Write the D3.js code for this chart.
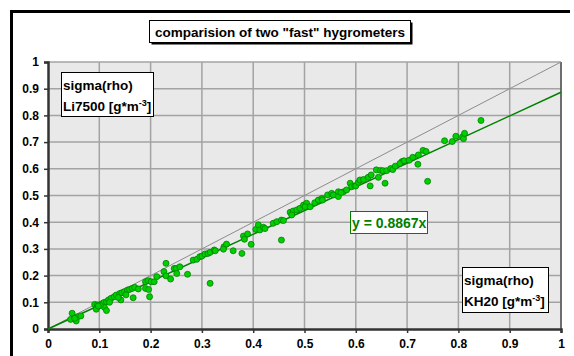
<!DOCTYPE html>
<html>
<head>
<meta charset="utf-8">
<script src="https://cdnjs.cloudflare.com/ajax/libs/d3/7.8.5/d3.min.js"></script>
<style>
body { margin: 0; background: #fff; }
svg text { font-family: "Liberation Sans", Arial, sans-serif; font-weight: bold; }
</style>
</head>
<body>
<div id="chart"></div>
<script>
// measured points, KH20 sigma(rho) on x, Li7500 sigma(rho) on y
var kh20 = [0.047, 0.044, 0.055, 0.058, 0.064, 0.052, 0.091, 0.096, 0.094, 0.104, 0.109, 0.114, 0.110, 0.114,
  0.118, 0.123, 0.129, 0.133, 0.140, 0.144, 0.149, 0.155, 0.159, 0.164, 0.169, 0.120, 0.142, 0.166, 0.190, 0.195,
  0.201, 0.207, 0.190, 0.198, 0.196, 0.212, 0.230, 0.226, 0.230, 0.239, 0.246, 0.250, 0.251, 0.257, 0.272, 0.283,
  0.290, 0.296, 0.300, 0.306, 0.312, 0.316, 0.324, 0.326, 0.316, 0.343, 0.348, 0.342, 0.361, 0.378, 0.381, 0.383,
  0.389, 0.396, 0.405, 0.410, 0.413, 0.420, 0.423, 0.439, 0.446, 0.455, 0.459, 0.455, 0.472, 0.478, 0.475, 0.485,
  0.491, 0.498, 0.504, 0.501, 0.511, 0.520, 0.527, 0.534, 0.535, 0.545, 0.553, 0.556, 0.566, 0.566, 0.576, 0.571,
  0.582, 0.589, 0.592, 0.598, 0.600, 0.605, 0.608, 0.615, 0.624, 0.630, 0.628, 0.644, 0.640, 0.648, 0.653, 0.660,
  0.657, 0.668, 0.672, 0.677, 0.690, 0.686, 0.694, 0.704, 0.711, 0.722, 0.721, 0.731, 0.737, 0.740, 0.773, 0.788,
  0.795, 0.808, 0.810, 0.812, 0.844, 0.137, 0.152, 0.176, 0.102, 0.098];
var li7500 = [0.059, 0.036, 0.030, 0.046, 0.049, 0.040, 0.092, 0.090, 0.074, 0.094, 0.099, 0.102, 0.081, 0.069,
  0.109, 0.115, 0.121, 0.127, 0.133, 0.136, 0.140, 0.146, 0.148, 0.152, 0.156, 0.100, 0.109, 0.117, 0.177, 0.181,
  0.177, 0.177, 0.152, 0.121, 0.148, 0.196, 0.246, 0.215, 0.199, 0.187, 0.227, 0.227, 0.208, 0.233, 0.205, 0.258,
  0.261, 0.271, 0.273, 0.281, 0.283, 0.287, 0.296, 0.293, 0.171, 0.308, 0.318, 0.299, 0.293, 0.283, 0.348, 0.336,
  0.356, 0.317, 0.373, 0.390, 0.371, 0.381, 0.376, 0.396, 0.402, 0.408, 0.406, 0.333, 0.437, 0.442, 0.427, 0.446,
  0.452, 0.464, 0.471, 0.458, 0.458, 0.473, 0.483, 0.489, 0.483, 0.502, 0.508, 0.502, 0.514, 0.496, 0.514, 0.511,
  0.521, 0.546, 0.533, 0.536, 0.536, 0.549, 0.558, 0.560, 0.568, 0.577, 0.536, 0.568, 0.596, 0.594, 0.593, 0.593,
  0.546, 0.601, 0.597, 0.610, 0.627, 0.620, 0.630, 0.632, 0.643, 0.652, 0.617, 0.669, 0.665, 0.553, 0.705, 0.702,
  0.722, 0.720, 0.713, 0.733, 0.781, 0.118, 0.128, 0.150, 0.088, 0.086];
var ticks = [0, 0.1, 0.2, 0.3, 0.4, 0.5, 0.6, 0.7, 0.8, 0.9, 1];
var slope = 0.8867;
var titleText = 'comparision of two "fast" hygrometers';

var W = 574, H = 356;
var plotL = 48, plotR = 561, plotT = 62, plotB = 329;

var svg = d3.select("#chart").append("svg")
  .attr("width", W)
  .attr("height", H);

// outer frame (only top and left are inside the picture)
svg.append("line").attr("x1", 11.5).attr("x2", 570).attr("y1", 11.5).attr("y2", 11.5)
  .attr("stroke", "#000").attr("stroke-width", 3);
svg.append("line").attr("x1", 11.5).attr("x2", 11.5).attr("y1", 10).attr("y2", H)
  .attr("stroke", "#000").attr("stroke-width", 3);

var x = d3.scaleLinear().domain([0, 1]).range([plotL, plotR]);
var y = d3.scaleLinear().domain([0, 1]).range([plotB, plotT]);

svg.append("rect")
  .attr("x", plotL).attr("y", plotT)
  .attr("width", plotR - plotL).attr("height", plotB - plotT)
  .attr("fill", "#e9e9e9");

// grid
svg.append("g").selectAll("line").data(ticks.slice(1)).enter().append("line")
  .attr("x1", function(d) { return x(d); })
  .attr("x2", function(d) { return x(d); })
  .attr("y1", plotT).attr("y2", plotB)
  .attr("stroke", "#a3a3a3").attr("stroke-width", 1.5);
svg.append("g").selectAll("line").data(ticks.slice(1)).enter().append("line")
  .attr("x1", plotL).attr("x2", plotR)
  .attr("y1", function(d) { return y(d); })
  .attr("y2", function(d) { return y(d); })
  .attr("stroke", "#a3a3a3").attr("stroke-width", 1.5);

// right border of plot
svg.append("line").attr("x1", plotR).attr("x2", plotR).attr("y1", plotT).attr("y2", plotB)
  .attr("stroke", "#555").attr("stroke-width", 1.5);

// axes
var xAxis = d3.axisBottom(x).tickValues(ticks).tickSize(4).tickPadding(6)
  .tickFormat(function(d) { return d3.format("")(d); });
var yAxis = d3.axisLeft(y).tickValues(ticks).tickSize(4).tickPadding(5)
  .tickFormat(function(d) { return d3.format("")(d); });

var gx = svg.append("g").attr("transform", "translate(0," + plotB + ")").call(xAxis);
var gy = svg.append("g").attr("transform", "translate(" + plotL + ",0)").call(yAxis);
[gx, gy].forEach(function(g) {
  g.select(".domain").attr("stroke", "#333").attr("stroke-width", 2.5);
  g.selectAll(".tick line").attr("stroke", "#333").attr("stroke-width", 1.5);
  g.selectAll("text").attr("font-size", 12).attr("fill", "#000")
    .attr("font-family", "Liberation Sans, Arial, sans-serif").attr("font-weight", "bold");
});

// 1:1 line and fit line
svg.append("line")
  .attr("x1", x(0)).attr("y1", y(0)).attr("x2", x(1)).attr("y2", y(1))
  .attr("stroke", "#8c8c8c").attr("stroke-width", 1);
svg.append("line")
  .attr("x1", x(0)).attr("y1", y(0)).attr("x2", x(1)).attr("y2", y(slope))
  .attr("stroke", "#008000").attr("stroke-width", 1.5);

// points
svg.append("g").selectAll("circle").data(kh20).enter().append("circle")
  .attr("cx", function(d) { return x(d); })
  .attr("cy", function(d, i) { return y(li7500[i]); })
  .attr("r", 3)
  .attr("fill", "#00d000")
  .attr("stroke", "#008000")
  .attr("stroke-width", 0.8);

// text boxes
function box(x0, y0, w, h, stroke, shadow) {
  if (shadow) {
    svg.append("rect").attr("x", x0 + 2).attr("y", y0 + 2).attr("width", w).attr("height", h).attr("fill", "#000");
  }
  svg.append("rect").attr("x", x0).attr("y", y0).attr("width", w).attr("height", h)
    .attr("fill", "#fff").attr("stroke", stroke).attr("stroke-width", 1);
}

box(149.5, 20.5, 261, 22, "#000", true);
svg.append("text").attr("x", 280).attr("y", 37).attr("text-anchor", "middle")
  .attr("font-size", 13.5).text(titleText);

box(61.5, 72.5, 92, 44, "#000", false);
svg.append("text").attr("x", 63).attr("y", 90).attr("font-size", 13.5).text("sigma(rho)");
var l1 = svg.append("text").attr("x", 63).attr("y", 111).attr("font-size", 13.5);
l1.append("tspan").text("Li7500 [g*m");
l1.append("tspan").attr("dy", -5).attr("font-size", 9).text("-3");
l1.append("tspan").attr("dy", 5).text("]");

box(462.5, 267.5, 86, 45, "#000", false);
svg.append("text").attr("x", 464).attr("y", 285).attr("font-size", 13.5).text("sigma(rho)");
var l2 = svg.append("text").attr("x", 464).attr("y", 306).attr("font-size", 13.5);
l2.append("tspan").text("KH20 [g*m");
l2.append("tspan").attr("dy", -5).attr("font-size", 9).text("-3");
l2.append("tspan").attr("dy", 5).text("]");

box(350.5, 211.5, 77, 22, "#008000", false);
svg.append("text").attr("x", 352).attr("y", 227.5).attr("font-size", 14).attr("fill", "#008000")
  .text("y = " + slope + "x");
</script>
</body>
</html>
